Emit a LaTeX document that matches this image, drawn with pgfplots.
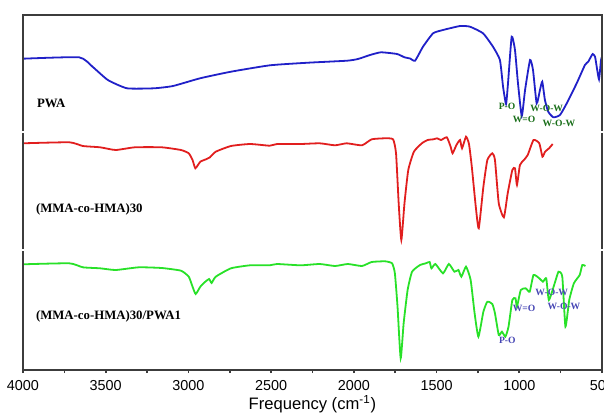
\documentclass[border=0pt]{standalone}
\usepackage{pgfplots}
\pgfplotsset{compat=1.18}
\usepackage{fontspec}
\setmainfont{Liberation Serif}
\setsansfont{Liberation Sans}
\definecolor{cblue}{RGB}{32,32,200}
\definecolor{cred}{RGB}{225,30,30}
\definecolor{cgreen}{RGB}{40,225,40}
\definecolor{dgreen}{RGB}{25,110,25}
\definecolor{slate}{RGB}{70,70,180}
\definecolor{frame}{RGB}{60,60,60}
\tikzset{
  plabel/.style={anchor=west, font=\bfseries\fontsize{6.4}{7}\selectfont},
  ann/.style={font=\bfseries\fontsize{4.8}{5.5}\selectfont, inner sep=0pt},
  curve/.style={line width=0.9pt, smooth, tension=0.3},
}
\begin{document}
\begin{tikzpicture}
\pgfplotsset{
  panel/.style={scale only axis, width=289.5pt, x dir=reverse, xmin=500, xmax=4000,
    axis line style={draw=none}, xtick=\empty, ytick=\empty, clip=false, anchor=south west},
}
\path[use as bounding box] (0,0) rectangle (302pt,207pt);
% ---------------- top panel: PWA
\begin{axis}[panel, at={(11.5pt,141.5pt)}, height=58pt, ymin=-131, ymax=-15]
\addplot[cblue, curve] coordinates {
(4000,-58.7) (3661,-57.3) (3580,-66.7) (3487,-80) (3371,-88.3) (3208,-88.3) (3093,-86)
(2930,-78.3) (2743,-71.7) (2507,-65.3) (2277,-62.7) (2041,-60.7) (1975,-59) (1902,-55)
(1836,-52.3) (1739,-54) (1694,-57.3) (1660,-58.5) (1630,-60.7) (1582,-46.7) (1521,-33.3)
(1461,-30) (1358,-26) (1298,-26.7) (1219,-33.3) (1159,-46.7) (1117,-60) (1098,-86.7)
(1080,-104) (1068,-83) (1046,-36.7) (1026,-50) (1008,-83) (985,-116) (965,-90) (935,-60)
(917,-70) (895,-103.3) (875,-90) (861,-81.7) (845,-100) (825,-111.7) (794,-117.3)
(754,-115) (713,-103.3) (653,-83.3) (603,-65) (583,-61.7) (572,-58.3) (556,-54)
(542,-56.7) (532,-66.7) (518,-79.3) (506,-60) (500,-57)
};
\draw[frame, line width=0.9pt] (rel axis cs:0,0) -- (rel axis cs:0,1) -- (rel axis cs:1,1) -- (rel axis cs:1,0);
\node[plabel] at (axis cs:3958,-103) {PWA};
\node[ann, text=dgreen] at (axis cs:1074,-106) {P-O};
\node[ann, text=dgreen] at (axis cs:971,-119) {W=O};
\node[ann, text=dgreen] at (axis cs:834,-108) {W-O-W};
\node[ann, text=dgreen] at (axis cs:760,-123) {W-O-W};
\end{axis}
% ---------------- middle panel
\begin{axis}[panel, at={(11.5pt,82.5pt)}, height=58pt, ymin=-249, ymax=-133]
\addplot[cred, curve] coordinates {
(4000,-143.3) (3720,-142.3) (3638,-146) (3534,-147.3) (3440,-150) (3324,-147.3) (3161,-147.3)
(3045,-150) (2998,-153.3) (2975,-160) (2958,-168.3) (2928,-161.7) (2894,-159.3) (2870,-157.3)
(2835,-151.7) (2743,-146) (2627,-144) (2509,-145.7) (2464,-144) (2322,-144) (2206,-143.3)
(2114,-145.3) (2043,-143.3) (1951,-145.3) (1892,-139.3) (1811,-138.3) (1763,-139.3)
(1745,-153.3) (1729,-203.3) (1713,-240) (1694,-203.3) (1671,-170) (1637,-151.7) (1589,-143.3)
(1554,-140) (1519,-139.3) (1497,-138.3) (1473,-140) (1438,-137.3) (1415,-146.7) (1403,-153.3)
(1380,-145) (1358,-140) (1346,-148.3) (1322,-136.7) (1304,-144) (1287,-166.7) (1263,-206.7)
(1245,-228.3) (1217,-186.7) (1193,-160) (1163,-153.3) (1147,-160) (1124,-203.3) (1093,-217.3)
(1070,-193.3) (1042,-170) (1026,-168.3) (1014,-185) (996,-165) (972,-160) (949,-155)
(914,-140) (879,-143.3) (860,-156.7) (844,-151.7) (820,-148.3) (798,-144)
};
\draw[frame, line width=0.9pt] (rel axis cs:0,0) -- (rel axis cs:0,1);
\draw[frame, line width=0.9pt] (rel axis cs:1,0) -- (rel axis cs:1,1);
\node[plabel] at (axis cs:3964,-209.5) {(MMA-co-HMA)30};
\end{axis}
% ---------------- bottom panel
\begin{axis}[panel, at={(11.5pt,22pt)}, height=59.5pt, ymin=-370, ymax=-251,
  xtick={4000,3500,3000,2500,2000,1500,1000,500},
  xticklabels={4000,3500,3000,2500,2000,1500,1000,500},
  minor xtick={3750,3250,2750,2250,1750,1250,750},
  major tick length=1.6pt, minor tick length=1.6pt, tick align=outside, xtick pos=bottom,
  tick style={frame, line width=0.8pt},
  xticklabel style={font=\sffamily\fontsize{7.2}{8}\selectfont, yshift=0pt},
]
\addplot[cgreen, curve] coordinates {
(4000,-264.3) (3720,-263.3) (3638,-267.3) (3534,-268.3) (3440,-270) (3300,-267.3) (3161,-268)
(3045,-270.7) (2998,-276.7) (2975,-286.7) (2956,-294) (2928,-286.7) (2900,-282) (2875,-279)
(2860,-283) (2835,-276.7) (2743,-268.3) (2627,-265.3) (2509,-265.3) (2464,-264) (2322,-265.3)
(2206,-264) (2114,-266) (2036,-264) (1951,-266) (1892,-262) (1811,-261.3) (1769,-263.3)
(1752,-273.3) (1736,-306.7) (1717,-358.3) (1699,-323.3) (1675,-290) (1648,-271.7) (1600,-265)
(1565,-263.3) (1542,-262) (1531,-268.3) (1507,-264) (1461,-273.3) (1426,-264) (1392,-271.7)
(1368,-270) (1350,-276.7) (1322,-266.7) (1294,-280) (1270,-313.3) (1247,-336.7) (1217,-311.7)
(1193,-301.7) (1163,-304) (1147,-313.3) (1124,-335) (1105,-331.7) (1084,-336.7) (1065,-326.7)
(1042,-300) (1023,-298.3) (1014,-306.7) (991,-290) (961,-288.3) (937,-291.7) (914,-275)
(879,-278.3) (857,-281.7) (837,-278.3) (821,-300) (786,-283.3) (763,-271.7) (740,-276.7)
(721,-326.7) (698,-300) (670,-283.3) (635,-275) (619,-265) (600,-266)
};
\draw[frame, line width=0.9pt] (rel axis cs:0,1) -- (rel axis cs:0,0) -- (rel axis cs:1,0) -- (rel axis cs:1,1);
\node[plabel] at (axis cs:3964,-316) {(MMA-co-HMA)30/PWA1};
\node[ann, text=slate] at (axis cs:1072,-340.7) {P-O};
\node[ann, text=slate] at (axis cs:971,-308.3) {W=O};
\node[ann, text=slate] at (axis cs:804,-292.7) {W-O-W};
\node[ann, text=slate] at (axis cs:730,-306) {W-O-W};
\node[anchor=base, font=\sffamily\fontsize{8.3}{10}\selectfont] at ([yshift=-19.5pt]rel axis cs:0.5,0) {Frequency (cm\textsuperscript{-1})};
\end{axis}
\end{tikzpicture}
\end{document}
